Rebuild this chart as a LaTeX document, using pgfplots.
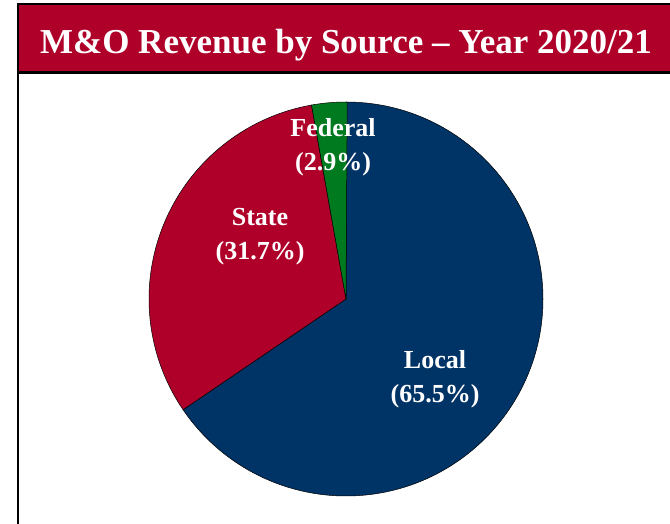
\documentclass[border=0pt]{standalone}
\usepackage{pgfplots}
\usepackage{pgfplotstable}
\usepackage{fontspec}
\setmainfont{Liberation Serif}
\pgfplotsset{compat=1.18}

\definecolor{localblue}{RGB}{0,51,102}
\definecolor{statered}{RGB}{175,0,42}
\definecolor{fedgreen}{RGB}{0,122,30}

% share of M&O revenue, percent
\pgfplotstableread{
label   value
Local   65.5
State   31.7
Federal 2.9
}\revtable

\pgfplotstablegetelem{0}{value}\of\revtable \let\vLocal\pgfplotsretval
\pgfplotstablegetelem{1}{value}\of\revtable \let\vState\pgfplotsretval
\pgfplotstablegetelem{2}{value}\of\revtable \let\vFed\pgfplotsretval

% slices run clockwise from 12 o'clock
\pgfmathsetmacro\aStart{90}
\pgfmathsetmacro\aA{\aStart-3.6*\vLocal}
\pgfmathsetmacro\aB{\aA-3.6*\vState}
\pgfmathsetmacro\aC{\aB-3.6*\vFed}

\begin{document}
\begin{tikzpicture}
\begin{axis}[
    width=670pt, height=524pt, scale only axis,
    xmin=0, xmax=670, ymin=0, ymax=524,
    hide axis, clip=false,
]
% frame and title bar
\fill[statered] (axis cs:18,451) rectangle (axis cs:672,519);
\draw[line width=2pt] (axis cs:17.5,0) -- (axis cs:17.5,519.5) -- (axis cs:672,519.5);
\draw[line width=3pt] (axis cs:17.5,451) -- (axis cs:672,451);
\node[text=white, font=\fontsize{35}{40}\selectfont\bfseries] at (axis cs:346,479)
    {M\&O Revenue by Source -- Year 2020/21};

% pie
\filldraw[fill=localblue, draw=black, line width=0.5pt] (axis cs:346,225) -- ++(\aStart:197pt)
    arc[start angle=\aStart, end angle=\aA, radius=197pt] -- cycle;
\filldraw[fill=statered, draw=black, line width=0.5pt] (axis cs:346,225) -- ++(\aA:197pt)
    arc[start angle=\aA, end angle=\aB, radius=197pt] -- cycle;
\filldraw[fill=fedgreen, draw=black, line width=0.5pt] (axis cs:346,225) -- ++(\aB:197pt)
    arc[start angle=\aB, end angle=\aC, radius=197pt] -- cycle;

\node[text=white, align=center, font=\fontsize{26}{34}\selectfont\bfseries] at (axis cs:435,145)
    {Local\\(\vLocal\%)};
\node[text=white, align=center, font=\fontsize{26}{34}\selectfont\bfseries] at (axis cs:260,287)
    {State\\(\vState\%)};
\node[text=white, align=center, font=\fontsize{26}{34}\selectfont\bfseries] at (axis cs:333,377)
    {Federal\\(\vFed\%)};
\end{axis}
\pgfresetboundingbox
\path (0,0) rectangle (670pt,524pt);
\end{tikzpicture}
\end{document}
